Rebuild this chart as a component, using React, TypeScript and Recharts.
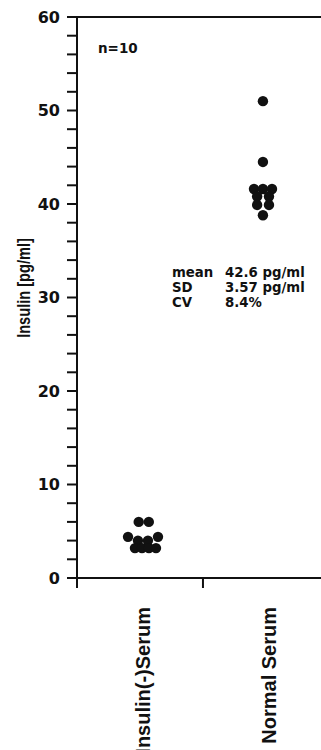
import { ScatterChart, Scatter, XAxis, YAxis, ReferenceLine } from 'recharts';

// column labels, placed at the centre of each column on the x scale
const categories = ['Insulin(-)Serum', 'Normal Serum'];
const categoryCenters = [0.5, 1.5];
const dividerTicks = [0, 1];

// insulin-depleted serum (x = horizontal spread inside the column)
const insulinFreeX = [0.49, 0.57, 0.405, 0.484, 0.563, 0.643, 0.46, 0.516, 0.571, 0.627];
const insulinFreeY = [6.0, 6.0, 4.4, 4.0, 4.0, 4.4, 3.2, 3.2, 3.2, 3.2];

// normal serum
const normalX = [1.476, 1.476, 1.405, 1.476, 1.548, 1.43, 1.524, 1.43, 1.524, 1.476];
const normalY = [51.0, 44.5, 41.6, 41.6, 41.6, 40.8, 40.8, 39.9, 39.9, 38.8];

const yTicks = [
  0, 2, 4, 6, 8, 10, 12, 14, 16, 18, 20, 22, 24, 26, 28, 30,
  32, 34, 36, 38, 40, 42, 44, 46, 48, 50, 52, 54, 56, 58, 60,
];
const yLabelTicks = [0, 10, 20, 30, 40, 50, 60];

const statLabels = ['mean', 'SD', 'CV'];
const statValues = ['42.6 pg/ml', '3.57 pg/ml', '8.4%'];
const sampleNote = 'n=10';

const insulinFree = insulinFreeX.map((x, i) => ({ x, y: insulinFreeY[i] }));
const normal = normalX.map((x, i) => ({ x, y: normalY[i] }));

const INK = '#111';
const WIDE = '"DejaVu Sans", sans-serif';
const NARROW = '"Liberation Sans", Arial, sans-serif';

const Dot = (props: any) => <circle cx={props.cx} cy={props.cy} r={5.2} fill={INK} />;

const YTick = ({ x, y, payload }: any) =>
  yLabelTicks.includes(payload.value) ? (
    <text x={x} y={y} dy="0.35em" textAnchor="end" fontFamily={WIDE} fontWeight="bold" fontSize={16} fill={INK}>
      {payload.value}
    </text>
  ) : null;

const XTick = ({ x, y, payload }: any) => {
  const idx = categoryCenters.indexOf(payload.value);
  if (idx < 0) {
    return <line x1={x} y1={y - 10} x2={x} y2={y} stroke={INK} strokeWidth={2} />;
  }
  return (
    <text
      transform={`translate(${x},${y + 19}) rotate(-90)`}
      textAnchor="end"
      dy="0.5em"
      fontFamily={NARROW}
      fontWeight="bold"
      fontSize={20}
      fill={INK}
    >
      {categories[idx]}
    </text>
  );
};

export default function App() {
  return (
    <div style={{ position: 'absolute', left: 0, top: 0, width: 321, height: 750, background: '#fff' }}>
      <ScatterChart width={321} height={750} margin={{ top: 17, right: 0, left: 17, bottom: 12 }}>
        <XAxis
          type="number"
          dataKey="x"
          domain={[0, 1.937]}
          ticks={[...dividerTicks, ...categoryCenters].sort()}
          tick={<XTick />}
          tickLine={false}
          tickSize={10}
          tickMargin={0}
          height={160}
          axisLine={{ stroke: INK, strokeWidth: 2 }}
          interval={0}
        />
        <YAxis
          type="number"
          dataKey="y"
          domain={[0, 60]}
          ticks={yTicks}
          interval={0}
          width={60}
          tickSize={10}
          tickMargin={7}
          tick={<YTick />}
          tickLine={{ stroke: INK, strokeWidth: 2 }}
          axisLine={{ stroke: INK, strokeWidth: 2 }}
        />
        <ReferenceLine y={60} stroke={INK} strokeWidth={2} />
        <Scatter data={insulinFree} shape={<Dot />} isAnimationActive={false} />
        <Scatter data={normal} shape={<Dot />} isAnimationActive={false} />
      </ScatterChart>
      <svg width={321} height={750} style={{ position: 'absolute', left: 0, top: 0, pointerEvents: 'none' }}>
        <text
          transform="translate(23,288) scale(1.3,1) rotate(-90)"
          textAnchor="middle"
          dy="0.35em"
          fontFamily={NARROW}
          fontWeight="bold"
          fontSize={14.6}
          fill={INK}
        >
          Insulin [pg/ml]
        </text>
        <text x={98} y={53} fontFamily={WIDE} fontWeight="bold" fontSize={13.5} fill={INK}>
          {sampleNote}
        </text>
        {statLabels.map((label, i) => (
          <g key={label} fontFamily={WIDE} fontWeight="bold" fontSize={13.3} fill={INK}>
            <text x={172} y={277 + i * 15}>{label}</text>
            <text x={225} y={277 + i * 15}>{statValues[i]}</text>
          </g>
        ))}
      </svg>
    </div>
  );
}
